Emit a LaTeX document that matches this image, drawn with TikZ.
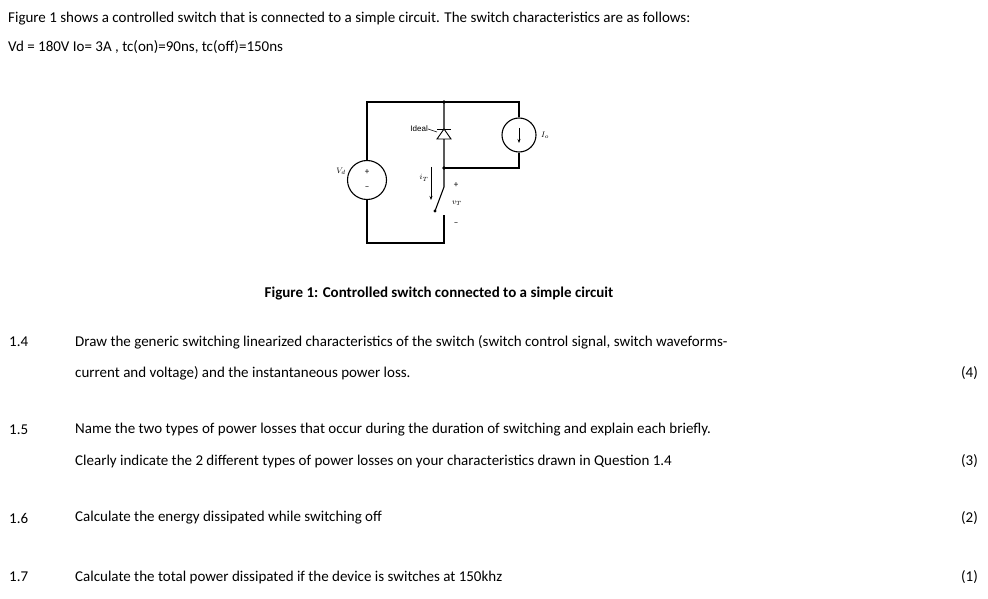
\documentclass[tikz,border=0pt]{standalone}
\usepackage{fontspec}
\usetikzlibrary{arrows.meta}
\setmainfont{Carlito}
\newfontfamily\circfont{Liberation Sans}
\begin{document}
\begin{tikzpicture}[x=1pt,y=-1pt,
  txt/.style={anchor=west,inner sep=0pt,font=\fontsize{15}{18}\selectfont},
  rtx/.style={anchor=east,inner sep=0pt,font=\fontsize{15}{18}\selectfont},
  wire/.style={line width=1.1pt},
  lbl/.style={inner sep=1pt,font=\fontsize{8}{9}\selectfont\itshape}]
\useasboundingbox (0,0) rectangle (988,599);
% texts
\node[txt] (l1) at (8,19) {Figure 1 shows a controlled switch that is connected to a simple circuit. The switch characteristics are as follows:};
\node[txt] (l2) at (8,47) {Vd = 180V Io= 3A , tc(on)=90ns, tc(off)=150ns};
\node[inner sep=0pt,font=\fontsize{15}{18}\selectfont\bfseries] (cap) at (439,294) {Figure 1: Controlled switch connected to a simple circuit};
\node[txt] (n14) at (9,342) {1.4};
\node[txt] (t14a) at (75,342) {Draw the generic switching linearized characteristics of the switch (switch control signal, switch waveforms-};
\node[txt] (t14b) at (75,373) {current and voltage) and the instantaneous power loss.};
\node[rtx] (m14) at (978,373) {(4)};
\node[txt] (n15) at (9,430) {1.5};
\node[txt] (t15a) at (75,430) {Name the two types of power losses that occur during the duration of switching and explain each briefly.};
\node[txt] (t15b) at (75,461) {Clearly indicate the 2 different types of power losses on your characteristics drawn in Question 1.4};
\node[rtx] (m15) at (978,461) {(3)};
\node[txt] (n16) at (9,518) {1.6};
\node[txt] (t16) at (75,518) {Calculate the energy dissipated while switching off};
\node[rtx] (m16) at (978,518) {(2)};
\node[txt] (n17) at (9,577) {1.7};
\node[txt] (t17) at (75,577) {Calculate the total power dissipated if the device is switches at 150khz};
\node[rtx] (m17) at (978,577) {(1)};
% circuit
\coordinate (tl) at (367,102);
\coordinate (tm) at (444,102);
\coordinate (tr) at (519,102);
\coordinate (mm) at (444,168);
\coordinate (mr) at (519,168);
\coordinate (bl) at (367,243);
\coordinate (bm) at (444,243);
\node[circle,draw,line width=1.1pt,minimum size=39pt,inner sep=0pt] (vd) at (367,180) {};
\node[circle,draw,line width=1.1pt,minimum size=34pt,inner sep=0pt] (io) at (519,135) {};
\draw[wire] (vd.north) -- (tl) -- (tr) -- (io.north);
\draw[wire] (io.south) -- (mr) -- (mm);
\draw[wire] (vd.south) -- (bl) -- (bm) -- (444,215);
\draw[wire] (tm) -- (mm) -- (444,187) -- (435,211);
\fill (tm) circle (1.8pt) (mm) circle (1.8pt);
\fill (435,211) circle (1.6pt);
% diode (anode bottom, cathode top)
\draw[line width=0.9pt] (437,129) -- (451,129);
\draw[line width=0.9pt,fill=white] (444,129) -- (437,139) -- (451,139) -- cycle;
\draw[line width=0.6pt] (428,129) -- (437,132);
\node[inner sep=0pt,anchor=east,font=\fontsize{8}{9}\selectfont\circfont] (ideal) at (428,129) {Ideal};
% source marks
\node[inner sep=0pt,font=\fontsize{9}{9}\selectfont] (vp) at (367,172) {+};
\node[inner sep=0pt,font=\fontsize{9}{9}\selectfont] (vm) at (367,188) {--};
\draw[-{Stealth[length=4pt]},line width=0.8pt] (519,128) -- (519,143);
% labels
\node[lbl,anchor=east] (vdl) at (347,171) {$V_d$};
\node[lbl,anchor=west] (iol) at (540,135) {$I_o$};
\node[lbl] (itl) at (424,178) {$i_T$};
\draw[-{Stealth[length=4pt]},line width=0.8pt] (431,167) -- (431,200);
\node[inner sep=0pt,font=\fontsize{9}{9}\selectfont] (pl) at (456,185) {+};
\node[lbl] (vtl) at (457,203) {$v_T$};
\node[inner sep=0pt,font=\fontsize{9}{9}\selectfont] (mi) at (456,224) {--};
\end{tikzpicture}
\end{document}
